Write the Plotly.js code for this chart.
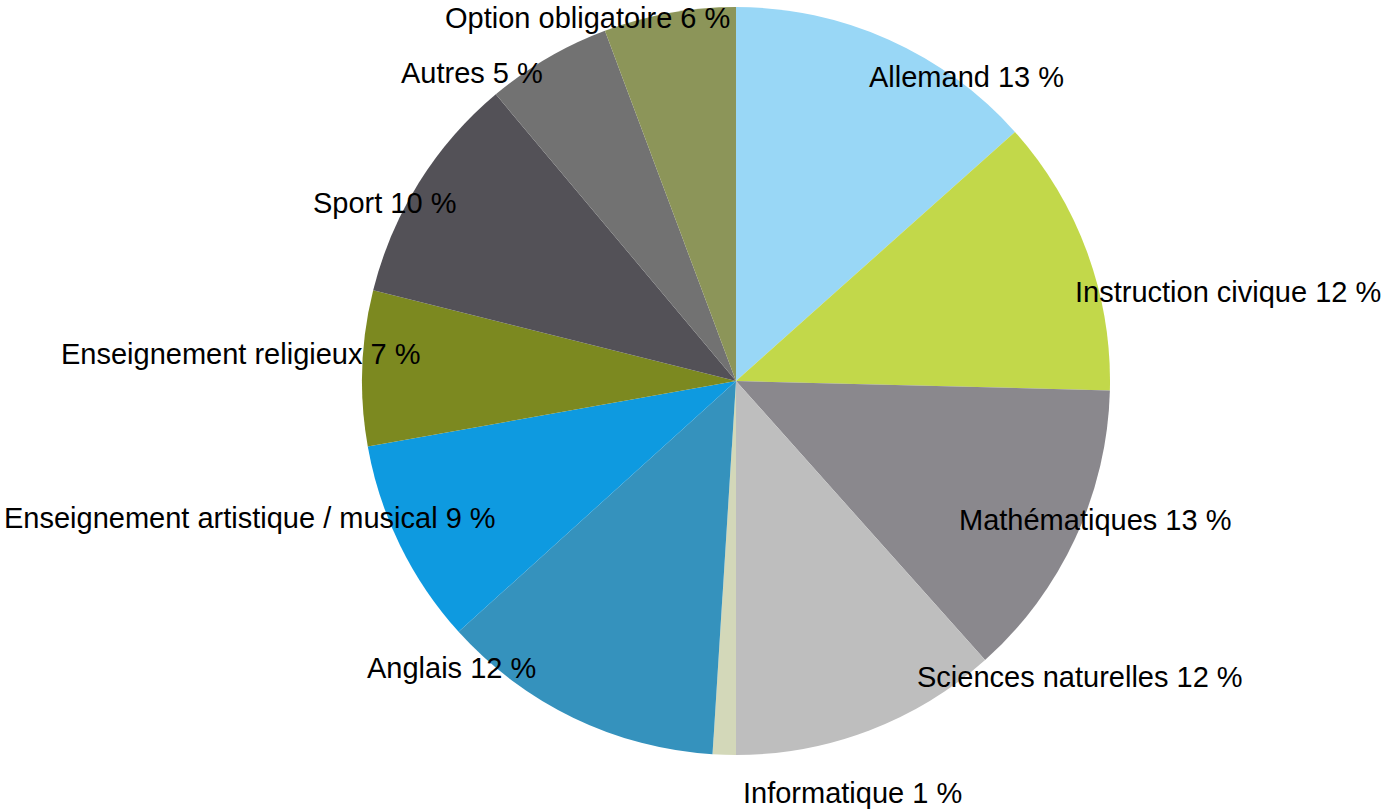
<!DOCTYPE html>
<html>
<head>
<meta charset="utf-8">
<script src="https://cdn.plot.ly/plotly-3.0.1.min.js"></script>
<style>html,body{margin:0;padding:0;background:#fff;}#chart{width:1382px;height:809px;}</style>
</head>
<body>
<div id="chart"></div>
<script>
// Data
const subjects = ["Allemand", "Instruction civique", "Mathématiques", "Sciences naturelles", "Informatique", "Anglais", "Enseignement artistique / musical", "Enseignement religieux", "Sport", "Autres", "Option obligatoire"];
const shares = [13.4, 12.0, 13.0, 11.6, 1.0, 12.3, 8.9, 6.7, 10.0, 5.4, 5.7];
const shownPct = [13, 12, 13, 12, 1, 12, 9, 7, 10, 5, 6];
const colors = ["#99D7F6", "#C2D84A", "#8A888D", "#BEBEBE", "#D3D8B9", "#3592BD", "#0E9AE0", "#7C8920", "#535157", "#727272", "#8C9559"];

// Label placement (pixel centres, styling only)
const labelPos = [[966, 77], [1228, 292], [1095, 520], [1080, 677], [852, 793], [452, 668], [250, 518], [240, 354], [384, 203], [472, 73], [587, 18]];

const W = 1382, H = 809;
const cx = 736, cy = 381, r = 374;

const annotations = subjects.map((s, i) => ({
  text: s + " " + shownPct[i] + " %",
  xref: "paper", yref: "paper",
  x: labelPos[i][0] / W, y: 1 - labelPos[i][1] / H,
  xanchor: "center", yanchor: "middle",
  showarrow: false,
  font: {family: "Liberation Sans, Arial, sans-serif", size: 29, color: "#000"}
}));

Plotly.newPlot("chart", [{
  type: "pie",
  labels: subjects,
  values: shares,
  sort: false,
  direction: "clockwise",
  rotation: 0,
  marker: {colors: colors, line: {width: 0}},
  textinfo: "none",
  hoverinfo: "label+percent",
  domain: {x: [(cx - r) / W, (cx + r) / W], y: [(H - cy - r) / H, (H - cy + r) / H]}
}], {
  width: W, height: H,
  margin: {l: 0, r: 0, t: 0, b: 0},
  showlegend: false,
  paper_bgcolor: "#fff",
  annotations: annotations
}, {displayModeBar: false, staticPlot: true});
</script>
</body>
</html>
